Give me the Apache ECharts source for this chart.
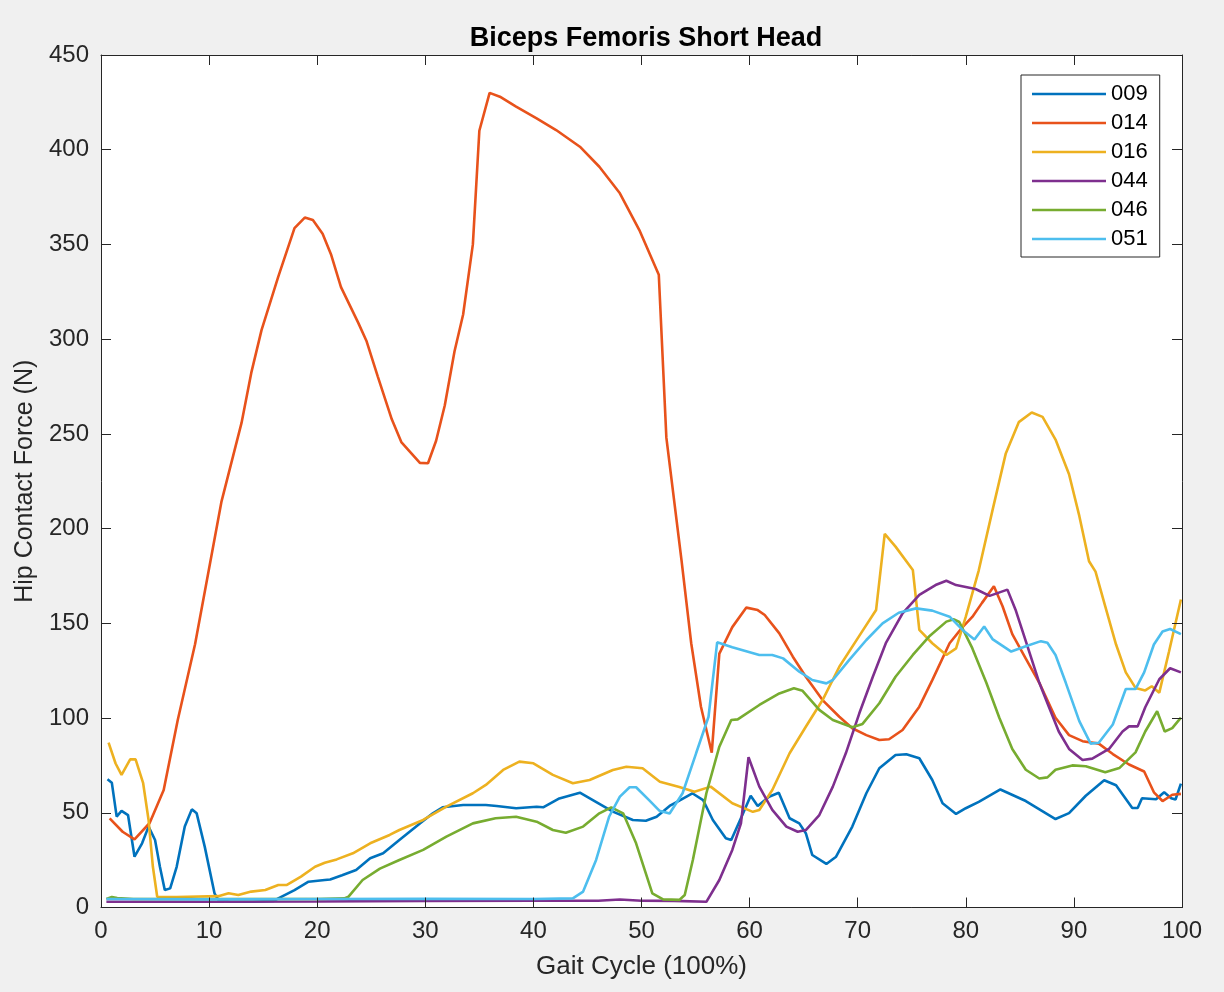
<!DOCTYPE html>
<html>
<head>
<meta charset="utf-8">
<title>Biceps Femoris Short Head</title>
<script src="https://cdn.jsdelivr.net/npm/echarts@6/dist/echarts.min.js"></script>
<style>
  html, body { margin: 0; padding: 0; background: #f0f0f0; }
  #chart { width: 1224px; height: 992px; }
</style>
</head>
<body>
<div id="chart"></div>
<script>
// Hip contact force per subject over the gait cycle: [gait %, force N]
const subjects = ['009', '014', '016', '044', '046', '051'];
const colors = ['#0072BD', '#E8521B', '#EDB120', '#7E2F8E', '#77AC30', '#4DBEEE'];

const s009 = [[0.6,67.7],[1.0,65.9],[1.45,48],[1.9,51],[2.5,48.8],[3.1,26.8],[3.8,33.9],[4.4,42.7],[5.0,35.6],[5.45,21.5],[5.9,9.2],[6.4,10.1],[7.0,21.5],[7.75,42.7],[8.4,51.8],[8.85,49.7],[9.6,32],[10.5,7.5],[10.85,4],[12,3],[14,3],[16,3.5],[16.4,4.8],[17.9,9.2],[19.2,13.6],[20.7,14.5],[21.2,14.8],[22.3,17],[23.6,19.8],[24.9,26],[26.1,28.6],[27.6,35.6],[29.5,44.4],[30.7,49.7],[31.6,52.9],[33.5,54.1],[35.6,54.1],[36.6,53.6],[38.4,52.4],[40.3,53.2],[40.9,52.9],[42.4,57.6],[44.3,60.6],[45.5,56.7],[47.35,50.6],[49.2,46.2],[50.4,45.8],[51.4,47.9],[52.6,53.6],[53.5,56.4],[54.7,60.3],[55.7,56.7],[56.6,46.2],[57.8,36.5],[58.3,35.6],[59.4,49.7],[60.1,59],[60.75,53.6],[61.8,58.5],[62.7,60.6],[63.7,47.1],[64.6,44.4],[65.2,39.2],[65.8,27.7],[67.1,23],[68.0,26.8],[69.5,42.7],[70.8,60.3],[72.0,73.5],[73.5,80.5],[74.5,80.9],[75.7,78.8],[76.9,67.3],[77.85,55],[79.1,49.4],[80.0,52.4],[81.2,55.8],[83.2,62.3],[85.55,56.2],[88.3,46.7],[89.55,49.8],[91.1,59],[92.8,67.2],[93.9,64.5],[95.4,52.5],[95.9,52.5],[96.3,57.7],[97.6,57.1],[98.35,60.8],[99.0,57.7],[99.4,57],[99.9,65.4]];

const s014 = [[0.8,47],[2,40],[3.1,36],[4.5,44.6],[5.8,62],[7.1,99],[8.7,139],[11.15,214.4],[13.0,255.8],[13.9,282.2],[14.85,304.8],[16.4,333],[17.9,358.6],[18.85,364.2],[19.6,362.9],[20.5,355.7],[21.3,344.4],[22.2,327.5],[23.8,308.6],[24.55,299.2],[25.6,280.4],[26.9,257.7],[27.8,245.5],[29.5,234.7],[30.25,234.5],[31.0,246.4],[31.8,265],[32.7,293.5],[33.5,313],[34.4,350],[35.0,410],[35.95,430],[36.9,428],[38.4,422.7],[40.3,416.6],[42.1,410.4],[44.3,401.6],[46.1,391],[48.0,377],[49.8,357.6],[51.6,334],[52.3,248],[53.7,183.4],[54.6,139.5],[55.5,106],[56.5,81.7],[57.2,134],[58.4,148],[59.7,158.3],[60.75,157],[61.4,154.4],[62.75,144.7],[64.0,132.4],[65.2,121.8],[66.75,109.5],[68.3,100.7],[69.5,94.6],[70.8,91],[72.0,88.4],[72.9,88.8],[74.15,93.7],[75.7,106],[76.9,120],[78.5,139.5],[79.7,148],[80.6,153.4],[81.5,160.8],[82.6,169.6],[83.4,159],[84.3,144.3],[85.55,131.4],[86.8,118.6],[88.3,100.2],[89.55,91],[90.8,87.8],[92.3,86.5],[93.6,81],[95.1,75.5],[96.5,71.8],[97.4,60.8],[98.2,56.2],[99.1,59.5],[99.9,60]];

const s016 = [[0.7,87],[1.35,76],[1.9,70],[2.7,78.2],[3.2,78.2],[3.9,65.6],[4.4,46.2],[4.8,21.5],[5.2,5.7],[7,5.5],[9,5.8],[10.85,6],[11.8,7.5],[12.7,6.6],[13.9,8.4],[15.2,9.2],[16.4,11.9],[17.2,11.9],[18.5,16.3],[19.8,21.5],[20.7,23.6],[21.8,25.4],[23.3,28.6],[24.9,33.9],[26.7,38.3],[27.6,40.9],[29.8,46.2],[31.95,53.2],[34.4,60.3],[35.6,64.7],[37.2,72.6],[38.7,77],[40.0,76.1],[41.8,70],[43.65,65.6],[45.2,67.3],[47.35,72.6],[48.6,74.3],[50.1,73.5],[51.7,66.4],[53.5,63.6],[54.9,61.1],[56.4,63.8],[58.4,55],[60.3,50.5],[60.9,51.5],[62.1,62],[63.7,81.4],[65.2,95.4],[66.75,109.5],[68.3,127.1],[70.1,143],[71.7,157],[72.5,197.2],[73.5,190.5],[75.1,178.2],[75.7,146.5],[76.9,139.5],[78.2,133.3],[79.1,136.8],[80.0,153.5],[81.2,178],[82.5,210.4],[83.7,239.7],[84.9,256.2],[86.1,261.3],[87.1,259],[88.3,247],[89.55,228.7],[90.5,206.7],[91.4,182.8],[92.0,177.3],[92.9,159],[93.9,138.8],[94.8,124.1],[95.7,115.9],[96.6,114.6],[97.2,116.8],[97.9,113.4],[98.8,135.1],[99.9,162.6]];

const s044 = [[0.5,3],[10,3],[20,3.2],[30,3.5],[40,3.6],[46,3.6],[48,4.2],[50,3.6],[53,3.5],[56,3],[57.2,14.5],[58.4,30.4],[59.2,44.4],[59.9,79.3],[60.9,63.8],[62.1,51.5],[63.4,42.7],[64.45,40],[65.2,40.9],[66.45,48.8],[67.7,63.8],[68.9,81.4],[70.15,102.5],[71.4,121.8],[72.6,139.5],[74.15,155.3],[75.7,165],[77.2,170.2],[78.2,172.5],[79.1,170.2],[80.9,168.1],[82.2,164.5],[83.85,167.8],[84.6,157.2],[85.55,140.6],[86.8,118.6],[87.7,105.7],[88.6,92.9],[89.55,83.7],[90.8,77.9],[91.7,78.6],[93.25,83.7],[94.5,92.9],[95.1,95.6],[95.9,95.6],[96.6,105.7],[97.9,120.5],[98.9,126.3],[99.9,124.1]];

const s046 = [[0.5,4.5],[1,5.5],[1.5,5],[3,4.5],[10,4.5],[20,4.5],[22.5,4.8],[22.9,5.7],[24.2,14.5],[25.8,20.5],[27.6,25.1],[29.8,30.4],[31.95,37.4],[34.4,44.4],[36.5,47.1],[38.4,47.9],[40.3,45.3],[41.8,40.9],[43.0,39.5],[44.6,42.7],[46.1,49.7],[47.2,52.9],[48.3,49.7],[49.5,33.9],[50.4,18],[51.0,7.5],[52.0,4.3],[53.5,4],[54.0,6.6],[54.75,25.1],[56.0,60.3],[57.2,84.9],[58.3,99],[58.9,99.3],[60.9,106.9],[62.75,113],[64.1,115.7],[64.9,114.4],[66.45,104.3],[67.7,99],[69.5,95.1],[70.45,96.9],[72.0,107.8],[73.5,121.8],[75.1,133.3],[76.6,143],[78.2,150.9],[78.9,152.1],[79.4,150.7],[80.6,136.9],[81.9,118.6],[83.1,100.2],[84.3,83.7],[85.55,72.7],[86.8,68.1],[87.55,68.7],[88.3,72.7],[89.85,75],[91.1,74.6],[92.9,71.4],[94.2,73.6],[95.7,81.9],[96.6,92.9],[97.7,103.6],[98.4,92.9],[99.1,94.7],[99.9,100.2]];

const s051 = [[0.5,4.5],[10,4.3],[20,4.5],[30,4.6],[40,4.5],[43.65,4.8],[44.6,8.4],[45.8,25.1],[47.0,47.9],[48.0,58.5],[48.9,63.5],[49.5,63.5],[50.7,56.7],[51.65,51.1],[52.6,49.6],[53.8,60.3],[55.05,81.4],[56.2,100.7],[57.0,140],[58.4,137.4],[60.9,133.3],[62.1,133.3],[63.1,131.5],[64.6,124.5],[65.8,120.1],[67.1,118.3],[67.7,120.1],[69.2,130.6],[70.8,141.2],[72.3,150],[73.8,155.6],[75.4,157.9],[76.9,156.7],[78.5,153.5],[79.7,146.5],[80.8,141.5],[81.7,148.3],[82.5,141.5],[84.2,135.1],[85.55,137.9],[86.95,140.6],[87.55,139.7],[88.3,133.3],[89.25,118.6],[90.5,98.4],[91.55,86.5],[92.3,87],[93.6,96.6],[94.8,115.3],[95.7,115.3],[96.5,124.1],[97.4,138.8],[98.2,145.7],[98.9,147],[99.9,144.3]];

const seriesData = [s009, s014, s016, s044, s046, s051];

const FONT = 'Liberation Sans, Arial, Helvetica, sans-serif';
const INK = '#262626';

// plot box placement (pixels inside the 1224x992 canvas)
const BOX = { left: 101, right: 42, top: 55, bottom: 84.5 };

const chart = echarts.init(document.getElementById('chart'), null, { renderer: 'canvas' });

const tickStyle = { show: true, inside: true, length: 10, lineStyle: { color: INK, width: 1 } };
const lineStyle = { show: true, onZero: false, lineStyle: { color: INK, width: 1 } };

// box-style frame: the secondary axes only carry inward ticks
const frameAxis = (pos, min, max, interval) => ({
  type: 'value', position: pos, min, max, interval, z: 10,
  axisLine: lineStyle,
  axisTick: tickStyle,
  axisLabel: { show: false },
  splitLine: { show: false }
});

chart.setOption({
  animation: false,
  backgroundColor: '#f0f0f0',
  color: colors,
  graphic: [{
    type: 'rect', z: -100, silent: true,
    shape: { x: BOX.left, y: BOX.top, width: 1224 - BOX.left - BOX.right, height: 992 - BOX.top - BOX.bottom },
    style: { fill: '#ffffff' }
  }],
  title: {
    text: 'Biceps Femoris Short Head',
    left: 641,
    top: 20,
    textAlign: 'center',
    textStyle: { fontFamily: FONT, fontSize: 27, fontWeight: 'bold', color: '#000' }
  },
  legend: {
    orient: 'vertical',
    left: 1021,
    top: 75,
    padding: [8, 12, 7, 11],
    itemGap: 7,
    itemWidth: 74,
    itemHeight: 2.5,
    itemTextGap: 7,
    icon: 'rect',
    backgroundColor: '#ffffff',
    borderColor: INK,
    borderWidth: 1,
    borderRadius: 0,
    textStyle: { fontFamily: FONT, fontSize: 22, lineHeight: 21.8, color: '#000' },
    data: subjects
  },
  grid: { left: BOX.left, right: BOX.right, top: BOX.top, bottom: BOX.bottom, show: false },
  xAxis: [
    {
      type: 'value', min: 0, max: 100, interval: 10, z: 10,
      name: 'Gait Cycle (100%)', nameLocation: 'middle', nameGap: 46,
      nameTextStyle: { fontFamily: FONT, fontSize: 26, color: INK },
      axisLine: lineStyle,
      axisTick: tickStyle,
      axisLabel: { fontFamily: FONT, fontSize: 24, color: INK, margin: 12 },
      splitLine: { show: false }
    },
    frameAxis('top', 0, 100, 10)
  ],
  yAxis: [
    {
      type: 'value', min: 0, max: 450, interval: 50, z: 10,
      name: 'Hip Contact Force (N)', nameLocation: 'middle', nameGap: 61,
      nameTextStyle: { fontFamily: FONT, fontSize: 25, color: INK },
      axisLine: lineStyle,
      axisTick: tickStyle,
      axisLabel: { fontFamily: FONT, fontSize: 24, color: INK, margin: 12 },
      splitLine: { show: false }
    },
    frameAxis('right', 0, 450, 50)
  ],
  series: subjects.map((name, i) => ({
    name,
    type: 'line',
    xAxisIndex: 0,
    yAxisIndex: 0,
    data: seriesData[i],
    symbol: 'none',
    showSymbol: false,
    smooth: false,
    lineStyle: { width: 2.6, color: colors[i] },
    itemStyle: { color: colors[i] },
    emphasis: { disabled: true }
  }))
});
</script>
</body>
</html>
